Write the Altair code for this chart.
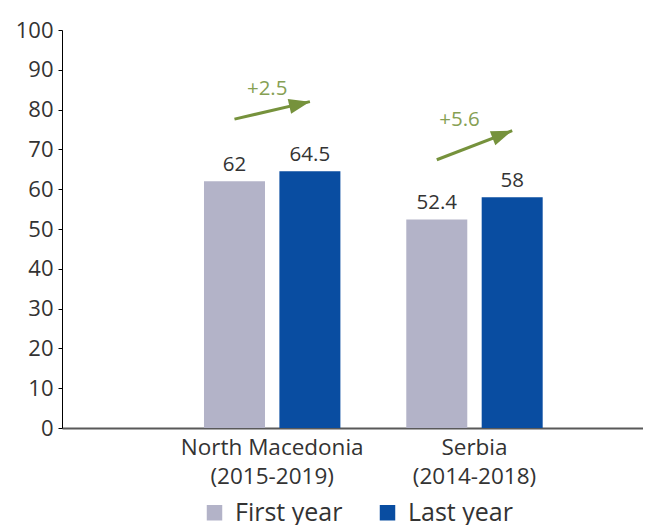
import altair as alt
import pandas as pd

countries = ["North Macedonia (2015-2019)", "Serbia (2014-2018)"]
series = ["First year", "Last year"]
first_year = [62, 52.4]
last_year = [64.5, 58]

change_labels = ["+2.5", "+5.6"]
arrow_start = [77.6, 67.4]
arrow_end = [82.0, 74.7]
change_label_y = [83.7, 75.9]
y_ticks = [0, 10, 20, 30, 40, 50, 60, 70, 80, 90, 100]

GRAY = "#B3B3C8"
BLUE = "#094DA1"
GREEN = "#76923C"
GREEN_TXT = "#86A053"
TXT = "#333333"

rows = []
for c, f, l in zip(countries, first_year, last_year):
    rows.append({"country": c, "series": series[0], "value": f, "label": f"{f:g}"})
    rows.append({"country": c, "series": series[1], "value": l, "label": f"{l:g}"})
bars_df = pd.DataFrame(rows)

arrow_rows = []
for c, s, e in zip(countries, arrow_start, arrow_end):
    arrow_rows.append({"country": c, "series": series[0], "value": s})
    arrow_rows.append({"country": c, "series": series[1], "value": e})
arrow_df = pd.DataFrame(arrow_rows)

head_df = pd.DataFrame({"country": countries, "series": [series[1]] * 2, "value": arrow_end})
change_df = pd.DataFrame({"country": countries, "value": change_label_y, "text": change_labels})

x_axis = alt.Axis(
    title=None,
    ticks=False,
    labelAngle=0,
    labelFontSize=22.5,
    labelColor=TXT,
    labelPadding=8,
    labelLineHeight=29,
    labelLimit=400,
    domainColor="#595959",
    domainWidth=2,
    labelExpr="[slice(datum.label, 0, indexof(datum.label, ' (')), slice(datum.label, indexof(datum.label, ' (') + 1)]",
)
x_scale = alt.Scale(domain=countries, paddingInner=0.3257, paddingOuter=0.5989, align=0.586)
x_enc = alt.X("country:N", scale=x_scale, axis=x_axis)
xoff_enc = alt.XOffset("series:N", scale=alt.Scale(domain=series, paddingInner=0.191, paddingOuter=0))
y_axis = alt.Axis(
    title=None,
    values=y_ticks,
    grid=False,
    domainColor="#000000",
    tickColor="#000000",
    tickSize=4,
    labelFontSize=22,
    labelColor=TXT,
    labelPadding=5,
    labelOverlap=False,
)
y_enc = alt.Y("value:Q", scale=alt.Scale(domain=[0, 100], nice=False), axis=y_axis)

bars = alt.Chart(bars_df).mark_bar().encode(
    x=x_enc,
    xOffset=xoff_enc,
    y=y_enc,
    color=alt.Color(
        "series:N",
        scale=alt.Scale(domain=series, range=[GRAY, BLUE]),
        legend=alt.Legend(
            title=None,
            orient="none",
            legendX=140,
            legendY=470,
            direction="horizontal",
            symbolType="square",
            symbolSize=240,
            symbolStrokeWidth=0,
            labelFontSize=25,
            labelColor=TXT,
            columnPadding=32,
            labelOffset=8,
        ),
    ),
)

values = alt.Chart(bars_df).mark_text(fontSize=20.5, color=TXT, baseline="alphabetic", dy=-10).encode(
    x=x_enc, xOffset=xoff_enc, y=y_enc, text="label:N",
)

arrow_line = alt.Chart(arrow_df).mark_line(color=GREEN, strokeWidth=3).encode(
    x=x_enc, xOffset=xoff_enc, y=y_enc,
    detail="country:N",
    order=alt.Order("series:N"),
)

head_shape = "M0,0L-2,-0.72L-2,0.72Z"
head1 = alt.Chart(head_df).transform_filter(alt.datum.country == countries[0]).mark_point(
    shape=head_shape, size=441, filled=True, opacity=1, color=GREEN, strokeWidth=0, angle=347
).encode(x=x_enc, xOffset=xoff_enc, y=y_enc)
head2 = alt.Chart(head_df).transform_filter(alt.datum.country == countries[1]).mark_point(
    shape=head_shape, size=441, filled=True, opacity=1, color=GREEN, strokeWidth=0, angle=339
).encode(x=x_enc, xOffset=xoff_enc, y=y_enc)

chg1 = alt.Chart(change_df).transform_filter(alt.datum.country == countries[0]).mark_text(
    fontSize=20.5, color=GREEN_TXT, baseline="alphabetic", dx=-5
).encode(x=x_enc, y=y_enc, text="text:N")
chg2 = alt.Chart(change_df).transform_filter(alt.datum.country == countries[1]).mark_text(
    fontSize=20.5, color=GREEN_TXT, baseline="alphabetic", dx=-15
).encode(x=x_enc, y=y_enc, text="text:N")

chart = (
    alt.layer(bars, values, arrow_line, head1, head2, chg1, chg2)
    .properties(
        width=581,
        height=398,
        autosize="none",
        padding={"left": 54, "top": 22, "right": 0, "bottom": 97},
    )
    .configure(font="Open Sans")
    .configure_view(stroke=None)
)

chart.save("out.html", embed_options={"renderer": "svg", "actions": False})
